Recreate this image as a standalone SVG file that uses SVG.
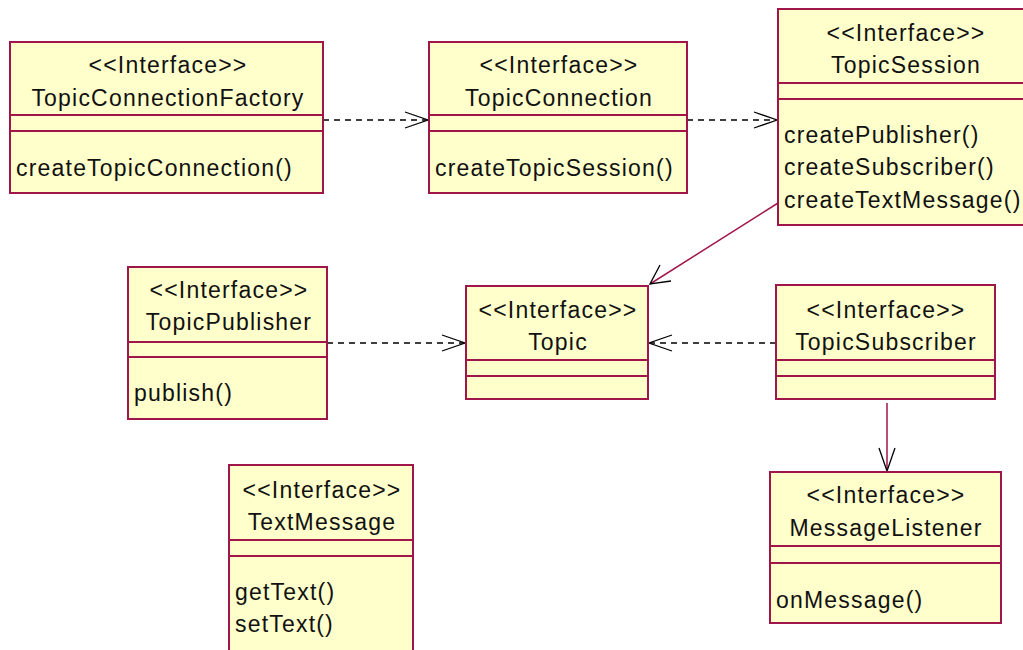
<svg xmlns="http://www.w3.org/2000/svg" width="1023" height="650" viewBox="0 0 1023 650">
<defs>
<style>
.box{fill:#FFFFCC;stroke:#A0154A;stroke-width:2}
.sep{stroke:#A0154A;stroke-width:2}
text{font-family:"Liberation Sans",Arial,sans-serif;font-size:23px;letter-spacing:1.2px;fill:#111}
.c{text-anchor:middle}
.dash{stroke:#000;stroke-width:1.5;stroke-dasharray:6,5;fill:none}
.solid{stroke:#A0154A;stroke-width:1.5;fill:none}
.head{stroke:#000;stroke-width:1.3;fill:none}
</style>
</defs>
<rect width="1023" height="650" fill="#fff"/>
<g id="connectors">
<line class="dash" x1="323" y1="120" x2="427" y2="120"/>
<polyline class="head" points="405,112 428,120 405,128"/>
<line class="dash" x1="687" y1="120" x2="776" y2="120"/>
<polyline class="head" points="754,112 777,120 754,128"/>
<line class="solid" x1="778" y1="203" x2="650" y2="284"/>
<polyline class="head" points="660,265 650,284 671,281"/>
<line class="dash" x1="327" y1="343" x2="464" y2="343"/>
<polyline class="head" points="442,335 465,343 442,351"/>
<line class="dash" x1="776" y1="343" x2="650" y2="343"/>
<polyline class="head" points="672,335 649,343 672,351"/>
<line class="solid" x1="887" y1="403" x2="887" y2="470"/>
<polyline class="head" points="879,448 887,471 895,448"/>
</g>
<g id="TopicConnectionFactory">
<rect class="box" x="10" y="42" width="313" height="151"/>
<line class="sep" x1="10" y1="115" x2="323" y2="115"/>
<line class="sep" x1="10" y1="131" x2="323" y2="131"/>
<text class="c" x="168" y="73">&lt;&lt;Interface&gt;&gt;</text>
<text class="c" x="168" y="106">TopicConnectionFactory</text>
<text x="16" y="176">createTopicConnection()</text>
</g>
<g id="TopicConnection">
<rect class="box" x="429" y="42" width="258" height="151"/>
<line class="sep" x1="429" y1="115" x2="687" y2="115"/>
<line class="sep" x1="429" y1="131" x2="687" y2="131"/>
<text class="c" x="559" y="73">&lt;&lt;Interface&gt;&gt;</text>
<text class="c" x="559" y="106">TopicConnection</text>
<text x="435" y="176">createTopicSession()</text>
</g>
<g id="TopicSession">
<rect class="box" x="778" y="9" width="260" height="216"/>
<line class="sep" x1="778" y1="83" x2="1038" y2="83"/>
<line class="sep" x1="778" y1="99" x2="1038" y2="99"/>
<text class="c" x="906" y="41">&lt;&lt;Interface&gt;&gt;</text>
<text class="c" x="906" y="73">TopicSession</text>
<text x="784" y="143">createPublisher()</text>
<text x="784" y="175">createSubscriber()</text>
<text x="784" y="208">createTextMessage()</text>
</g>
<g id="TopicPublisher">
<rect class="box" x="128" y="267" width="199" height="152"/>
<line class="sep" x1="128" y1="342" x2="327" y2="342"/>
<line class="sep" x1="128" y1="357" x2="327" y2="357"/>
<text class="c" x="229" y="298">&lt;&lt;Interface&gt;&gt;</text>
<text class="c" x="229" y="330">TopicPublisher</text>
<text x="134" y="401">publish()</text>
</g>
<g id="Topic">
<rect class="box" x="466" y="286" width="182" height="113"/>
<line class="sep" x1="466" y1="360" x2="648" y2="360"/>
<line class="sep" x1="466" y1="376" x2="648" y2="376"/>
<text class="c" x="558" y="318">&lt;&lt;Interface&gt;&gt;</text>
<text class="c" x="558" y="350">Topic</text>
</g>
<g id="TopicSubscriber">
<rect class="box" x="776" y="285" width="219" height="114"/>
<line class="sep" x1="776" y1="360" x2="995" y2="360"/>
<line class="sep" x1="776" y1="376" x2="995" y2="376"/>
<text class="c" x="886" y="318">&lt;&lt;Interface&gt;&gt;</text>
<text class="c" x="886" y="350">TopicSubscriber</text>
</g>
<g id="TextMessage">
<rect class="box" x="229" y="465" width="184" height="200"/>
<line class="sep" x1="229" y1="540" x2="413" y2="540"/>
<line class="sep" x1="229" y1="556" x2="413" y2="556"/>
<text class="c" x="322" y="498">&lt;&lt;Interface&gt;&gt;</text>
<text class="c" x="322" y="530">TextMessage</text>
<text x="235" y="600">getText()</text>
<text x="235" y="632">setText()</text>
</g>
<g id="MessageListener">
<rect class="box" x="770" y="472" width="231" height="151"/>
<line class="sep" x1="770" y1="546" x2="1001" y2="546"/>
<line class="sep" x1="770" y1="563" x2="1001" y2="563"/>
<text class="c" x="886" y="503">&lt;&lt;Interface&gt;&gt;</text>
<text class="c" x="886" y="536">MessageListener</text>
<text x="776" y="608">onMessage()</text>
</g>
</svg>
